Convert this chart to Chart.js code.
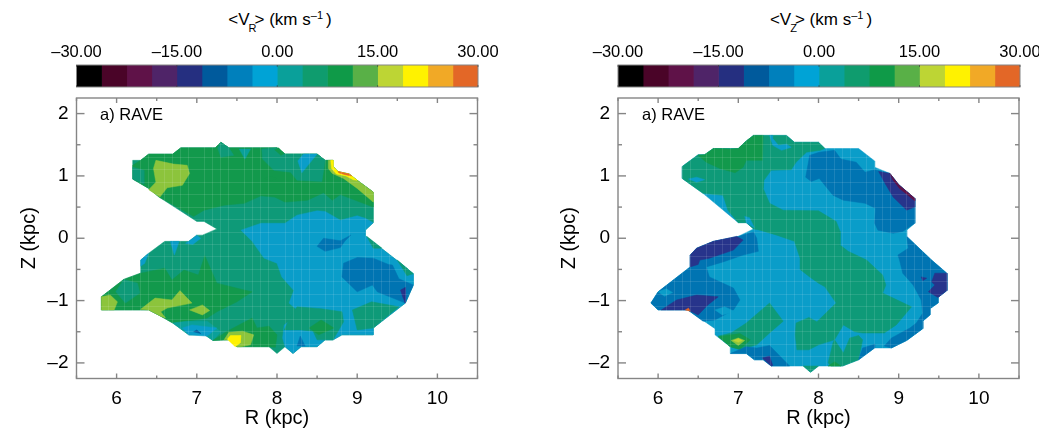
<!DOCTYPE html>
<html>
<head>
<meta charset="utf-8">
<title>Mean velocity maps</title>
<script src="https://cdn.jsdelivr.net/npm/chart.js@4"></script>
<style>
  html,body{margin:0;padding:0;background:#fff;overflow:hidden;width:1039px;height:433px;font-family:"Liberation Sans",Arial,sans-serif;color:#000}
  canvas{position:absolute}
  .cbTitle{position:absolute;top:8px;font-size:17px;line-height:24px;white-space:nowrap;transform:translateX(-50%)}
  .cbTitle sub{font-size:11px;line-height:0;vertical-align:-7px;margin:0 -2px 0 -1px}
  .cbTitle sup{font-size:11px;line-height:0;vertical-align:6px;margin-right:3px}
  .tag{position:absolute;top:105px;font-size:16.5px;line-height:18px;z-index:2}
</style>
</head>
<body>
<div class="cbTitle" style="left:280px">&lt;V<sub>R</sub>&gt; (km s<sup>–1</sup>)</div>
<div class="cbTitle" style="left:821px">&lt;V<sub>Z</sub>&gt; (km s<sup>–1</sup>)</div>
<div class="tag" style="left:100px">a) RAVE</div>
<div class="tag" style="left:642px">a) RAVE</div>
<canvas id="barL" width="560" height="60" style="left:0;top:35px;width:560px;height:60px"></canvas>
<canvas id="barR" width="499" height="60" style="left:540px;top:35px;width:499px;height:60px"></canvas>
<canvas id="mapL" width="500" height="343" style="left:0;top:90px;width:500px;height:343px"></canvas>
<canvas id="mapR" width="499" height="343" style="left:540px;top:90px;width:499px;height:343px"></canvas>
<script>
// ---------- colour bar ----------
const levels = [-30,-26.25,-22.5,-18.75,-15,-11.25,-7.5,-3.75,0,3.75,7.5,11.25,15,18.75,22.5,26.25,30];
const palette = ['#000000','#4a0428','#5f1248','#4f2468','#252f80','#005a9c','#0080bc','#00a3d6','#0aa09a','#0f9c6e','#0f9a48','#59b047','#bdd534','#fff200','#f1a926','#e36727'];
const barTicks = [-30,-15,0,15,30];

// the filled maps look a bit duller than the bar
const midGreen = '#8cc43c';
const mapCyan = '#0a9dc9';
const mapTeal = '#0e9a78';
const mapGreen = '#12994c';
const mapBlue = '#0074b2';
const mapIndigo = '#27348b';

// ---------- axes ----------
const rTicks = [6,7,8,9,10];
const rMinor = [5.5,6.5,7.5,8.5,9.5,10.5];
const zTicks = [-2,-1,0,1,2];
const zMinor = [-1.5,-0.5,0.5,1.5];
const rFaint = [5.7,5.8,5.9,6.1,6.2,6.3,6.4,6.6,6.7,6.8,6.9,7.1,7.2,7.3,7.4,7.6,7.7,7.8,7.9,8.1,8.2,8.3,8.4,8.6,8.7,8.8,8.9,9.1,9.2,9.3,9.4,9.6,9.7];
const zFaint = [-2.1,-1.9,-1.7,-1.5,-1.3,-1.1,-0.9,-0.7,-0.5,-0.3,-0.1,0.1,0.3,0.5,0.7,0.9,1.1,1.3,1.5];

// ---------- <V_R> contours, [R,Z] in kpc ----------
const vrOutline = [[6.2,1.25],[6.3,1.25],[6.4,1.35],[6.7,1.35],[6.8,1.45],[7.23,1.45],[7.3,1.54],[7.4,1.45],[8,1.45],[8.1,1.35],[8.5,1.35],[8.6,1.25],[8.7,1.25],[8.7,1.15],[8.76,1.07],[8.9,1.03],[9,0.93],[9.2,0.74],[9.2,0.25],[9.1,0.13],[9.1,0.04],[9.56,-0.42],[9.7,-0.57],[9.7,-0.75],[9.6,-1.04],[9.2,-1.44],[9.2,-1.55],[8.81,-1.55],[8.7,-1.63],[8.6,-1.63],[8.5,-1.74],[8.3,-1.74],[8.2,-1.85],[8.1,-1.74],[8,-1.85],[7.9,-1.74],[7.5,-1.74],[7.4,-1.63],[7.2,-1.64],[7.1,-1.55],[6.9,-1.55],[6.7,-1.36],[6.55,-1.25],[6.4,-1.15],[5.81,-1.15],[5.81,-0.94],[6.09,-0.66],[6.3,-0.56],[6.3,-0.35],[6.4,-0.24],[6.6,-0.05],[6.9,-0.05],[7,0.05],[7.07,0.05],[7.25,0.15],[7.09,0.27],[7,0.27],[6.53,0.66],[6.4,0.8],[6.2,0.95]];
const vrGreenTop = [[6.2,1.17],[6.3,1.25],[6.4,1.35],[6.7,1.35],[6.8,1.45],[7.23,1.45],[7.3,1.54],[7.4,1.45],[8,1.45],[8.1,1.35],[8.5,1.35],[8.6,1.25],[8.7,1.25],[8.7,1.15],[8.76,1.07],[8.9,1.03],[9,0.93],[9.2,0.74],[9.2,0.5],[8.79,0.7],[8.69,0.61],[8.58,0.73],[8.38,0.61],[8.1,0.58],[7.97,0.66],[7.8,0.68],[7.59,0.56],[7.34,0.53],[7.09,0.45],[6.96,0.35],[6.53,0.66],[6.4,0.8],[6.2,0.95]];
const vrTealLeft = [[6.2,1.14],[6.34,1.09],[6.34,0.87],[6.2,0.95]];
const vrTealTop1 = [[7.26,1.45],[7.3,1.54],[7.4,1.45],[7.46,1.33],[7.3,1.3]];
const vrTealTop2 = [[7.53,1.43],[7.67,1.43],[7.6,1.27]];
const vrTealTop3 = [[7.81,1.43],[8,1.45],[8.1,1.35],[8.5,1.35],[8.6,1.25],[8.56,0.91],[8.25,0.93],[8.17,1.06],[7.96,1.09],[7.82,1.27]];
const vrTealTop4 = [[7.84,0.96],[7.92,1.0],[8.0,0.96],[7.92,0.92]];
const vrCyanTop = [[8.26,1.24],[8.31,1.05],[8.5,1.35],[8.33,1.35]];
const vrGreenTopInset = [[7.97,1.42],[8.05,1.33],[8.09,1.36],[8.02,1.45]];
const vrLimeBlob = [[6.49,1.25],[6.71,1.19],[6.88,1.17],[6.91,1.04],[6.82,0.85],[6.63,0.81],[6.54,0.66],[6.4,0.78],[6.49,0.9],[6.46,1.12]];
const vrEdgeGreen = [[8.64,1.25],[8.7,1.25],[8.7,1.15],[8.76,1.07],[8.9,1.03],[9,0.93],[9.2,0.74],[9.2,0.58],[9,0.8],[8.83,0.96],[8.69,1.04],[8.64,1.12]];
const vrEdgeYellow = [[8.7,1.25],[8.7,1.15],[8.76,1.07],[8.9,1.03],[9,0.93],[8.95,0.94],[8.86,1],[8.74,1.03],[8.68,1.12],[8.67,1.25]];
const vrEdgeRed = [[8.76,1.07],[8.9,1.03],[8.93,1.0],[8.85,1.02],[8.77,1.05]];
const vrCyanMain = [[7.55,0.13],[7.8,0.24],[8.1,0.24],[8.25,0.37],[8.5,0.44],[8.6,0.43],[8.79,0.29],[9,0.36],[9.1,0.32],[9.2,0.25],[9.1,0.13],[9.1,0.04],[9.56,-0.42],[9.7,-0.57],[9.7,-0.75],[9.6,-1.04],[9.2,-1.44],[9.2,-1.55],[8.81,-1.55],[8.7,-1.63],[8.6,-1.63],[8.5,-1.74],[8.3,-1.74],[8.2,-1.85],[8.1,-1.74],[8.07,-1.6],[8.09,-1.39],[8.21,-1.28],[8.25,-1.15],[8.15,-1.04],[8.21,-0.84],[8.06,-0.62],[8,-0.4],[7.84,-0.32],[7.69,-0.05]];
const vrTealR1 = [[9.12,0.03],[9.31,-0.16],[9.2,-0.16]];
const vrTealR2 = [[9.5,-0.35],[9.7,-0.57],[9.62,-0.6]];
const vrTealR3 = [[8.94,-1.15],[9.18,-1.02],[9.52,-1.1],[9.2,-1.44],[9,-1.47]];
const vrTealMid = [[8.25,-1.1],[8.55,-1.13],[8.81,-1.18],[8.83,-1.34],[8.7,-1.63],[8.5,-1.63],[8.45,-1.49],[8.3,-1.47],[8.09,-1.47],[8.15,-1.3]];
const vrBlueR = [[8.83,-0.4],[9,-0.31],[9.2,-0.32],[9.39,-0.42],[9.44,-0.43],[9.52,-0.65],[9.7,-0.75],[9.6,-1.04],[9.25,-0.86],[9.19,-0.75],[9,-0.86],[8.81,-0.62]];
const vrIndigoR = [[9.54,-0.83],[9.6,-0.79],[9.6,-1.04],[9.57,-0.95]];
const vrBlueMid = [[8.5,-0.13],[8.58,0],[8.79,-0.04],[8.92,0.05],[8.85,-0.04],[8.79,-0.15],[8.6,-0.21]];
const vrGreenLow = [[7.1,-0.28],[7.25,-0.72],[7.59,-0.83],[7.69,-0.86],[7.5,-1.02],[7.25,-1.18],[7.13,-1.28],[6.88,-1.33],[6.7,-1.36],[6.55,-1.25],[6.4,-1.15],[5.81,-1.15],[5.81,-0.94],[6.09,-0.66],[6.3,-0.56],[6.6,-0.48],[6.69,-0.67],[6.84,-0.51],[7.02,-0.59]];
const vrTealLow = [[6.09,-0.66],[6.26,-0.72],[6.29,-0.88],[6.11,-1.04],[5.99,-0.86]];
const vrLimeTip = [[5.81,-0.94],[5.92,-0.91],[6.01,-1.02],[5.97,-1.15],[5.81,-1.15]];
const vrLimeMid = [[6.3,-1.14],[6.48,-0.96],[6.69,-0.99],[6.79,-0.84],[6.94,-1.04],[6.63,-1.12],[6.55,-1.18],[6.61,-1.28],[6.55,-1.25],[6.4,-1.15]];
const vrLimeLow = [[6.91,-1.15],[7.07,-1.07],[7.16,-1.16],[7.07,-1.23]];
const vrTealStrip = [[6.7,-1.36],[6.88,-1.33],[7.13,-1.33],[7.3,-1.5],[7.2,-1.64],[7.1,-1.55],[6.9,-1.55]];
const vrCyanLow = [[6.82,-1.44],[6.94,-1.39],[7.25,-1.44],[7.13,-1.57],[6.9,-1.55]];
const vrIndigoLow = [[6.96,-1.5],[7.0,-1.47],[7.05,-1.53]];
const vrGreenBase = [[7.2,-1.64],[7.38,-1.49],[7.69,-1.28],[7.75,-1.44],[7.9,-1.41],[8,-1.55],[7.98,-1.75],[7.9,-1.74],[7.5,-1.74],[7.4,-1.63]];
const vrLimePatch = [[7.34,-1.63],[7.4,-1.51],[7.57,-1.49],[7.71,-1.55],[7.67,-1.71],[7.55,-1.74],[7.5,-1.74],[7.4,-1.63]];
const vrYellowPatch = [[7.38,-1.62],[7.42,-1.56],[7.55,-1.56],[7.54,-1.68],[7.48,-1.74]];
const vrGreenDiamond = [[8.4,-1.44],[8.55,-1.31],[8.71,-1.44],[8.52,-1.55]];
const vrBlueLow = [[8.25,-1.73],[8.29,-1.57],[8.35,-1.73]];
const vrCyan1 = [[6.67,-0.05],[6.78,-0.05],[6.72,-0.27]];
const vrCyan2 = [[6.3,-0.35],[6.4,-0.24],[6.35,-0.4],[6.3,-0.45]];
const vrCyan3 = [[6.9,-0.05],[7,0.05],[7.05,0],[6.95,-0.1],[6.86,-0.08]];

// ---------- <V_Z> contours ----------
const vzOutline = [[6.3,1.15],[6.5,1.34],[6.58,1.34],[6.69,1.44],[7,1.44],[7.1,1.56],[7.19,1.65],[7.6,1.65],[7.7,1.54],[8,1.54],[8.08,1.44],[8.5,1.44],[8.7,1.24],[8.7,1.14],[8.89,1.04],[9,0.86],[9.2,0.64],[9.2,0.24],[9.1,0.13],[9.1,0.03],[9.41,-0.35],[9.6,-0.56],[9.6,-0.84],[9.49,-0.95],[9.49,-1.04],[9.39,-1.13],[9.39,-1.23],[9.3,-1.33],[9.3,-1.45],[9.1,-1.64],[8.91,-1.76],[8.7,-1.76],[8.5,-1.95],[8.3,-2.05],[8,-2.05],[7.9,-2.15],[7.81,-2.05],[7.41,-2.05],[7.31,-1.95],[7.2,-1.95],[7.1,-1.85],[6.9,-1.85],[6.9,-1.74],[6.71,-1.55],[6.71,-1.45],[6.37,-1.15],[6,-1.15],[5.91,-1.04],[6,-0.86],[6.4,-0.46],[6.4,-0.27],[6.48,-0.16],[6.69,-0.05],[7,0.03],[7.19,0.15],[7.1,0.25],[7,0.25],[6.56,0.72],[6.3,0.96]];
const vzTealMain = [[6.3,0.96],[6.3,1.15],[6.5,1.34],[6.58,1.34],[6.69,1.44],[7,1.44],[7.1,1.56],[7.19,1.65],[7.6,1.65],[7.7,1.54],[8,1.54],[8.08,1.44],[8.02,1.41],[7.85,1.38],[7.72,1.22],[7.66,1.1],[7.41,1.09],[7.32,0.93],[7.31,0.8],[7.39,0.56],[7.56,0.45],[8,0.44],[8.22,0.27],[8.27,0.11],[8.27,-0.11],[8.37,-0.21],[8.6,-0.35],[8.8,-0.59],[8.84,-0.75],[8.8,-0.88],[9.16,-1.1],[8.97,-1.39],[8.82,-1.52],[8.55,-1.52],[8.45,-1.5],[8.31,-1.39],[8.2,-1.63],[8,-1.71],[7.88,-1.79],[7.73,-1.79],[7.71,-1.55],[7.72,-1.36],[7.88,-1.27],[7.98,-1.34],[8.22,-1.04],[8.08,-0.78],[8,-0.72],[7.89,-0.62],[7.77,-0.5],[7.77,-0.32],[7.7,-0.05],[7.48,0.05],[7.27,0.13],[7.19,0.15],[7.1,0.25],[7,0.25],[6.87,0.45],[6.81,0.69],[6.56,0.72]];
const vzGreenTop = [[6.5,1.33],[6.58,1.34],[6.69,1.44],[6.91,1.43],[7,1.44],[7.1,1.56],[7.19,1.65],[7.31,1.65],[7.3,1.25],[7.1,1.25],[7.06,1.14],[6.96,1.05],[6.77,1.12],[6.6,1.22]];
const vzCyanTop = [[7.39,1.65],[7.43,1.49],[7.54,1.41],[7.66,1.46],[7.6,1.51],[7.5,1.49],[7.43,1.6],[7.43,1.65]];
const vzCyanLeft = [[6.38,0.95],[6.48,0.98],[6.58,0.94],[6.48,0.9]];
const vzCyanNotch = [[7.08,0.35],[7.14,0.33],[7.2,0.17],[7.1,0.25]];
const vzTealLowPatch = [[8.16,-2.05],[8.12,-2],[8.18,-1.68],[8.2,-1.63],[8.31,-1.84],[8.39,-1.6],[8.5,-1.56],[8.55,-1.63],[8.5,-1.95],[8.3,-2.05]];
const vzTealTip = [[7.81,-2.05],[7.9,-2.15],[8,-2.05]];
const vzGreenTiny = [[8.12,-2.05],[8.2,-1.98],[8.28,-2.05]];
const vzBlobTeal = [[6.91,-1.52],[7.1,-1.36],[7.39,-1.04],[7.56,-1.33],[7.39,-1.52],[7.23,-1.71],[7.02,-1.79],[6.9,-1.74],[6.75,-1.57]];
const vzBlobGreen = [[6.75,-1.58],[7.02,-1.53],[7.15,-1.63],[7.02,-1.78],[6.9,-1.74]];
const vzBlobLime = [[6.91,-1.64],[7,-1.6],[7.08,-1.64],[7,-1.72]];
const vzBlobYellow = [[6.94,-1.64],[7,-1.61],[7.05,-1.64],[7,-1.67]];
const vzBlueLeft = [[7,0.03],[7.19,0.1],[7.23,0],[7.25,-0.21],[7.06,-0.27],[6.81,-0.38],[6.6,-0.46],[6.64,-0.62],[6.94,-0.8],[7.02,-0.99],[6.94,-1.15],[6.71,-1.31],[6.56,-1.33],[6.37,-1.15],[6,-1.15],[5.91,-1.04],[6,-0.86],[6.4,-0.46],[6.4,-0.27],[6.48,-0.16],[6.69,-0.05]];
const vzIndigoTop = [[6.69,-0.05],[6.98,0.03],[7.06,-0.03],[6.94,-0.19],[6.64,-0.32],[6.52,-0.35],[6.5,-0.42],[6.4,-0.46],[6.4,-0.27],[6.48,-0.16]];
const vzIndigoLow = [[6.04,-1.15],[6.23,-0.99],[6.48,-0.91],[6.75,-0.94],[6.62,-1.07],[6.5,-1.23],[6.37,-1.15]];
const vzCyanA = [[6,-0.86],[6.1,-0.81],[6.18,-0.87],[6.08,-0.93]];
const vzCyanB = [[6.71,-1.15],[6.83,-1.1],[6.96,-1.18],[6.8,-1.23]];
const vzRedTiny = [[6.34,-1.15],[6.38,-1.12],[6.4,-1.17]];
const vzBlueBottom = [[6.9,-1.85],[7.1,-1.74],[7.23,-1.76],[7.39,-1.72],[7.64,-2.05],[7.41,-2.05],[7.31,-1.95],[7.2,-1.95],[7.1,-1.85]];
const vzIndigoBottom = [[7.3,-1.92],[7.39,-1.89],[7.43,-2.04],[7.41,-2.05]];
const vzBlueTop = [[7.84,0.98],[7.89,1.33],[8.01,1.38],[8.2,1.41],[8.28,1.27],[8.47,1.22],[8.58,1.06],[8.7,1.1],[8.89,1.04],[9,0.86],[9.2,0.64],[9.2,0.24],[9.05,0.11],[8.93,0.08],[8.74,0.13],[8.7,0.24],[8.71,0.48],[8.58,0.56],[8.31,0.61],[8.18,0.69],[8.01,0.96],[7.91,0.91]];
const vzIndigoEdge = [[8.75,1.07],[8.89,1.04],[9,0.86],[9.2,0.64],[9.2,0.5],[9.1,0.45],[8.93,0.66],[8.83,0.88]];
const vzMaroonEdge = [[8.89,1.04],[9,0.86],[9.2,0.64],[9.2,0.6],[9.01,0.8],[8.93,0.93]];
const vzBlueRight = [[9.1,0.03],[9.41,-0.35],[9.6,-0.56],[9.6,-0.84],[9.49,-0.95],[9.49,-1.04],[9.39,-1.13],[9.39,-1.23],[9.3,-1.33],[9.3,-1.45],[9.1,-1.64],[8.91,-1.76],[8.82,-1.73],[8.91,-1.6],[9.14,-1.44],[9.22,-1.36],[9.3,-1.2],[9.28,-0.99],[9.18,-0.75],[9.05,-0.56],[9.01,-0.35],[8.99,-0.27],[9.12,-0.16]];
const vzBlueFoot = [[8.5,-1.95],[8.55,-1.76],[8.7,-1.7],[8.7,-1.76]];
const vzIndigoRight = [[9.41,-0.7],[9.45,-0.56],[9.6,-0.56],[9.6,-0.84],[9.49,-0.95],[9.37,-0.86],[9.45,-0.75]];
const vzIndigoDot = [[9.28,-0.62],[9.35,-0.64],[9.3,-0.68]];

// painter's order: later entries sit on top of earlier ones
const vrLayers = [
  [mapTeal,vrOutline],[mapGreen,vrGreenTop],[mapTeal,vrTealLeft],[mapTeal,vrTealTop1],[palette[8],vrTealTop2],[mapTeal,vrTealTop3],[mapGreen,vrTealTop4],[mapGreen,vrGreenTopInset],[mapCyan,vrCyanTop],
  [midGreen,vrLimeBlob],[midGreen,vrEdgeGreen],[palette[13],vrEdgeYellow],[palette[15],vrEdgeRed],
  [mapCyan,vrCyanMain],[mapTeal,vrTealR1],[mapTeal,vrTealR2],[mapTeal,vrTealR3],[mapTeal,vrTealMid],[mapBlue,vrBlueR],[mapIndigo,vrIndigoR],[mapBlue,vrBlueMid],
  [mapGreen,vrGreenLow],[mapTeal,vrTealLow],[midGreen,vrLimeTip],[midGreen,vrLimeMid],[midGreen,vrLimeLow],[palette[8],vrTealStrip],[mapCyan,vrCyanLow],[palette[5],vrIndigoLow],
  [mapGreen,vrGreenBase],[midGreen,vrLimePatch],[palette[13],vrYellowPatch],[mapGreen,vrGreenDiamond],[mapBlue,vrBlueLow],[mapCyan,vrCyan1],[mapCyan,vrCyan2],[mapCyan,vrCyan3]
];
const vzLayers = [
  [mapCyan,vzOutline],[mapTeal,vzTealMain],[mapGreen,vzGreenTop],[mapCyan,vzCyanTop],[mapCyan,vzCyanLeft],[mapCyan,vzCyanNotch],
  [mapTeal,vzTealLowPatch],[mapTeal,vzTealTip],[mapGreen,vzGreenTiny],
  [mapTeal,vzBlobTeal],[mapGreen,vzBlobGreen],[midGreen,vzBlobLime],[palette[12],vzBlobYellow],
  [mapBlue,vzBlueLeft],[mapIndigo,vzIndigoTop],[mapIndigo,vzIndigoLow],[mapCyan,vzCyanA],[mapCyan,vzCyanB],[palette[15],vzRedTiny],
  [mapBlue,vzBlueBottom],[mapIndigo,vzIndigoBottom],
  [mapBlue,vzBlueTop],[mapIndigo,vzIndigoEdge],[palette[2],vzMaroonEdge],
  [mapBlue,vzBlueRight],[mapBlue,vzBlueFoot],[mapIndigo,vzIndigoRight],[mapIndigo,vzIndigoDot]
];

const AXIS_GRAY = '#858585';
const FONT = '"Liberation Sans", Arial, sans-serif';
const dash = v => String(v).replace('-', '–');

// box and inward tick marks, the plots have them on all four sides
const boxTicks = {
  id: 'boxTicks',
  afterDraw(chart) {
    const {ctx, chartArea: a, scales} = chart;
    ctx.save();
    ctx.strokeStyle = AXIS_GRAY; ctx.lineWidth = 1.4;
    ctx.strokeRect(a.left, a.top, a.right - a.left, a.bottom - a.top);
    const markX = (vals, len) => vals.forEach(v => {
      const p = scales.x.getPixelForValue(v);
      ctx.beginPath(); ctx.moveTo(p, a.top); ctx.lineTo(p, a.top + len); ctx.stroke();
      ctx.beginPath(); ctx.moveTo(p, a.bottom); ctx.lineTo(p, a.bottom - len); ctx.stroke();
    });
    const markY = (vals, len) => vals.forEach(v => {
      const p = scales.y.getPixelForValue(v);
      ctx.beginPath(); ctx.moveTo(a.left, p); ctx.lineTo(a.left + len, p); ctx.stroke();
      ctx.beginPath(); ctx.moveTo(a.right, p); ctx.lineTo(a.right - len, p); ctx.stroke();
    });
    markX(rTicks, 5); markX(rMinor, 3); markY(zTicks, 8); markY(zMinor, 4);
    ctx.restore();
  }
};

function makeMap(canvasId, layers, padRight) {
  new Chart(document.getElementById(canvasId), {
    type: 'scatter',
    plugins: [boxTicks],
    data: {
      datasets: layers.map(([color, pts], i) => ({
        data: pts.concat([pts[0]]).map(p => ({x: p[0], y: p[1]})),
        showLine: true, fill: 'shape', backgroundColor: color, borderColor: color, borderWidth: 0.5,
        pointRadius: 0, order: layers.length - i
      }))
    },
    options: {
      responsive: false, animation: false, events: [],
      layout: {padding: {top: 8, right: padRight, left: 0, bottom: 0}},
      plugins: {legend: {display: false}, tooltip: {enabled: false}},
      scales: {
        x: {
          type: 'linear', min: 5.5, max: 10.5, position: 'bottom',
          afterBuildTicks: s => { s.ticks = rTicks.map(v => ({value: v})); },
          afterFit: s => { s.height = 54.5; s.paddingLeft = 0; s.paddingRight = 0; },
          grid: {display: false}, border: {display: false},
          ticks: {color: '#000', font: {family: FONT, size: 19}, padding: 1, maxRotation: 0},
          title: {display: true, text: 'R (kpc)', color: '#000', font: {family: FONT, size: 20}, padding: {top: 0, bottom: 3}}
        },
        y: {
          type: 'linear', min: -2.25, max: 2.25, position: 'left',
          afterBuildTicks: s => { s.ticks = zTicks.map(v => ({value: v})); },
          afterFit: s => { s.width = canvasId === 'mapL' ? 76.5 : 78; s.paddingTop = 0; s.paddingBottom = 0; },
          grid: {display: false}, border: {display: false},
          ticks: {color: '#000', font: {family: FONT, size: 19}, padding: 0, callback: v => dash(v)},
          title: {display: true, text: 'Z (kpc)', color: '#000', font: {family: FONT, size: 20}, padding: {top: 17, bottom: 0}}
        },
        xFaint: {
          type: 'linear', min: 5.5, max: 10.5, position: 'top',
          afterBuildTicks: s => { s.ticks = rFaint.map(v => ({value: v})); },
          afterFit: s => { s.height = 0; s.paddingLeft = 0; s.paddingRight = 0; },
          grid: {color: 'rgba(255,255,255,0.11)', z: 1, drawTicks: false, lineWidth: 1},
          border: {display: false}, ticks: {display: false}
        },
        yFaint: {
          type: 'linear', min: -2.25, max: 2.25, position: 'right',
          afterBuildTicks: s => { s.ticks = zFaint.map(v => ({value: v})); },
          afterFit: s => { s.width = 0; s.paddingTop = 0; s.paddingBottom = 0; },
          grid: {color: 'rgba(255,255,255,0.11)', z: 1, drawTicks: false, lineWidth: 1},
          border: {display: false}, ticks: {display: false}
        }
      }
    }
  });
}

const barTicksPlugin = {
  id: 'barBox',
  afterDraw(chart) {
    const {ctx, chartArea: a, scales} = chart;
    ctx.save();
    ctx.strokeStyle = AXIS_GRAY; ctx.lineWidth = 1;
    ctx.strokeRect(a.left, a.top, a.right - a.left, a.bottom - a.top);
    ctx.strokeStyle = 'rgba(60,60,60,0.6)';
    barTicks.forEach(v => {
      const p = scales.x.getPixelForValue(v);
      ctx.beginPath(); ctx.moveTo(p, a.top); ctx.lineTo(p, a.top + 2); ctx.stroke();
      ctx.beginPath(); ctx.moveTo(p, a.bottom); ctx.lineTo(p, a.bottom - 2); ctx.stroke();
    });
    ctx.restore();
  }
};

function makeBar(canvasId, padLeft, padRight) {
  new Chart(document.getElementById(canvasId), {
    type: 'bar',
    plugins: [barTicksPlugin],
    data: {
      labels: ['level'],
      datasets: palette.map((c, i) => ({data: [[levels[i], levels[i + 1]]], backgroundColor: c, borderWidth: 0, grouped: false, barPercentage: 1, categoryPercentage: 1}))
    },
    options: {
      indexAxis: 'y', responsive: false, animation: false, events: [],
      layout: {padding: {left: padLeft, right: padRight, top: 0, bottom: 8}},
      plugins: {legend: {display: false}, tooltip: {enabled: false}},
      scales: {
        x: {
          type: 'linear', min: -30, max: 30, position: 'top',
          afterBuildTicks: s => { s.ticks = barTicks.map(v => ({value: v})); },
          afterFit: s => { s.height = 30; s.paddingLeft = 0; s.paddingRight = 0; },
          grid: {display: false, drawTicks: false}, border: {display: false},
          ticks: {color: '#000', font: {family: FONT, size: 16.5}, padding: 3, maxRotation: 0, callback: v => dash(v.toFixed(2))}
        },
        y: {display: false}
      }
    }
  });
}

makeBar('barL', 76.5, 82);
makeBar('barR', 78, 19);
makeMap('mapL', vrLayers, 22.5);
makeMap('mapR', vzLayers, 20);
</script>
</body>
</html>
